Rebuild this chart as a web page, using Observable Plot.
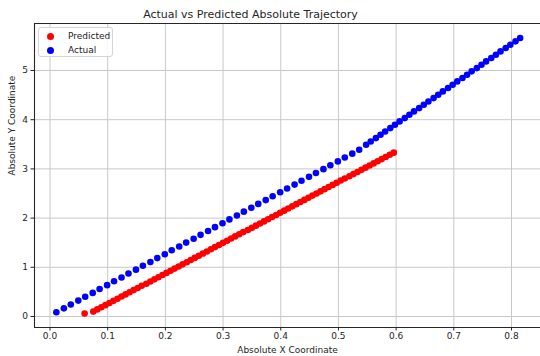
<!DOCTYPE html>
<html>
<head>
<meta charset="utf-8">
<script src="https://cdn.jsdelivr.net/npm/d3@7"></script>
<script src="https://cdn.jsdelivr.net/npm/@observablehq/plot@0.6"></script>
<style>
  html, body { margin: 0; padding: 0; background: #fff; overflow: hidden; }
  #wrap { position: relative; width: 540px; height: 356px; font-family: "DejaVu Sans", sans-serif; }
  #legend { position: absolute; left: 38px; top: 27px; width: 75px; height: 30px; border: 1px solid #d4d4d4; border-radius: 3px; background: rgba(255,255,255,0.85); box-sizing: border-box; }
  #legend .dot { position: absolute; width: 7px; height: 7px; border-radius: 50%; }
  #legend .lab { position: absolute; font-size: 9px; color: #222; line-height: 9px; white-space: nowrap; }
</style>
</head>
<body>
<div id="wrap"></div>
<script>
// ---- data ----
const title = "Actual vs Predicted Absolute Trajectory";
const xLabel = "Absolute X Coordinate";
const yLabel = "Absolute Y Coordinate";
const seriesNames = ["Predicted", "Actual"];
const seriesColors = ["#ff0000", "#0000ff"];

const actualX = [0.011, 0.024, 0.036, 0.049, 0.061, 0.074, 0.086, 0.099, 0.111, 0.124, 0.136, 0.149, 0.161, 0.174, 0.186, 0.199, 0.211, 0.224, 0.236, 0.249, 0.261, 0.274, 0.286, 0.299, 0.311, 0.324, 0.336, 0.349, 0.361, 0.374, 0.386, 0.399, 0.411, 0.424, 0.436, 0.449, 0.461, 0.474, 0.486, 0.499, 0.511, 0.524, 0.536,
  0.548, 0.556, 0.565, 0.573, 0.581, 0.590, 0.598, 0.606, 0.615, 0.623, 0.631, 0.640, 0.648, 0.656, 0.665, 0.673, 0.681, 0.690, 0.698, 0.706, 0.715, 0.723, 0.731, 0.740, 0.748, 0.756, 0.765, 0.773, 0.781, 0.790, 0.798, 0.807, 0.815];
const actualY = [0.087, 0.166, 0.244, 0.323, 0.401, 0.480, 0.559, 0.637, 0.716, 0.794, 0.873, 0.952, 1.030, 1.109, 1.187, 1.266, 1.345, 1.423, 1.502, 1.580, 1.659, 1.738, 1.816, 1.895, 1.973, 2.052, 2.131, 2.209, 2.288, 2.366, 2.445, 2.524, 2.602, 2.681, 2.759, 2.838, 2.917, 2.995, 3.074, 3.152, 3.231, 3.310, 3.388,
  3.490, 3.558, 3.626, 3.693, 3.761, 3.829, 3.897, 3.965, 4.032, 4.100, 4.168, 4.236, 4.304, 4.371, 4.439, 4.507, 4.575, 4.643, 4.710, 4.778, 4.846, 4.914, 4.982, 5.049, 5.117, 5.185, 5.253, 5.321, 5.388, 5.456, 5.524, 5.592, 5.660];

const predX = [0.060, 0.075, 0.082, 0.089, 0.096, 0.103, 0.110, 0.117, 0.124, 0.131, 0.138, 0.145, 0.152, 0.159, 0.167, 0.174, 0.181, 0.188, 0.195, 0.202, 0.209, 0.216, 0.223, 0.230, 0.237, 0.244, 0.251, 0.258, 0.265, 0.272, 0.279, 0.286, 0.293, 0.300, 0.307, 0.314, 0.321, 0.328, 0.335, 0.343, 0.350, 0.357, 0.364, 0.371, 0.378, 0.385, 0.392, 0.399, 0.406, 0.413, 0.420, 0.427, 0.434, 0.441, 0.448, 0.455, 0.462, 0.469, 0.476, 0.483, 0.490, 0.497, 0.504, 0.511, 0.519, 0.526, 0.533, 0.540, 0.547, 0.554, 0.561, 0.568, 0.575, 0.582, 0.589, 0.596];
const predY = [0.060, 0.100, 0.144, 0.187, 0.231, 0.275, 0.318, 0.362, 0.406, 0.449, 0.493, 0.537, 0.580, 0.624, 0.667, 0.711, 0.755, 0.798, 0.842, 0.886, 0.929, 0.973, 1.017, 1.060, 1.104, 1.148, 1.191, 1.235, 1.279, 1.322, 1.366, 1.410, 1.453, 1.497, 1.540, 1.584, 1.628, 1.671, 1.715, 1.759, 1.802, 1.846, 1.890, 1.933, 1.977, 2.021, 2.064, 2.108, 2.151, 2.195, 2.239, 2.283, 2.326, 2.370, 2.413, 2.457, 2.501, 2.544, 2.588, 2.632, 2.675, 2.719, 2.763, 2.806, 2.850, 2.894, 2.937, 2.981, 3.025, 3.068, 3.112, 3.156, 3.199, 3.243, 3.287, 3.330];

const xTicks = [0.0, 0.1, 0.2, 0.3, 0.4, 0.5, 0.6, 0.7, 0.8];
const yTicks = [0, 1, 2, 3, 4, 5];
const xDomain = [-0.0269, 0.8503];
const yDomain = [-0.2236, 5.955];

// ---- build ----
const pred = predX.map((x, i) => ({x, y: predY[i], s: seriesNames[0]}));
const actual = actualX.map((x, i) => ({x, y: actualY[i], s: seriesNames[1]}));

const ink = "#262626";
const chart = Plot.plot({
  width: 540,
  height: 356,
  marginLeft: 34,
  marginRight: 0,
  marginTop: 23,
  marginBottom: 29,
  style: {fontFamily: "DejaVu Sans", fontSize: "9px", color: ink, background: "#fff"},
  x: {domain: xDomain},
  y: {domain: yDomain},
  color: {domain: seriesNames, range: seriesColors},
  marks: [
    Plot.gridX(xTicks, {stroke: "#c8c8c8", strokeOpacity: 1, strokeWidth: 1}),
    Plot.gridY(yTicks, {stroke: "#c8c8c8", strokeOpacity: 1, strokeWidth: 1}),
    Plot.dot(pred, {x: "x", y: "y", fill: "s", r: 3.3, stroke: null}),
    Plot.dot(actual, {x: "x", y: "y", fill: "s", r: 3.3, stroke: null}),
    Plot.ruleX([xDomain[0]], {stroke: ink, strokeWidth: 1.1}),
    Plot.ruleY([yDomain[0], yDomain[1]], {stroke: ink, strokeWidth: 1.1}),
    Plot.axisX({ticks: xTicks, tickFormat: d3.format(".1f"), tickSize: 3.5, tickPadding: 2, label: null, stroke: ink, fontSize: 9}),
    Plot.axisY({ticks: yTicks, tickFormat: d3.format("d"), tickSize: 3.5, tickPadding: 3, label: null, stroke: ink, fontSize: 9}),
    Plot.text([title], {frameAnchor: "top", lineAnchor: "middle", dx: -37, dy: -9, fontSize: 11, fill: ink}),
    Plot.text([xLabel], {frameAnchor: "bottom", lineAnchor: "middle", dy: 23, fontSize: 9, fill: ink}),
    Plot.text([yLabel], {frameAnchor: "left", lineAnchor: "middle", dx: -22, rotate: -90, fontSize: 9, fill: ink})
  ]
});

const wrap = document.getElementById("wrap");
wrap.appendChild(chart);

// legend
const legend = document.createElement("div");
legend.id = "legend";
seriesNames.forEach((name, i) => {
  const d = document.createElement("div");
  d.className = "dot";
  d.style.background = seriesColors[i];
  d.style.left = "8px";
  d.style.top = (5 + i * 13.5) + "px";
  legend.appendChild(d);
  const t = document.createElement("div");
  t.className = "lab";
  t.textContent = name;
  t.style.left = "29px";
  t.style.top = (4 + i * 13.5) + "px";
  legend.appendChild(t);
});
wrap.appendChild(legend);
</script>
</body>
</html>
